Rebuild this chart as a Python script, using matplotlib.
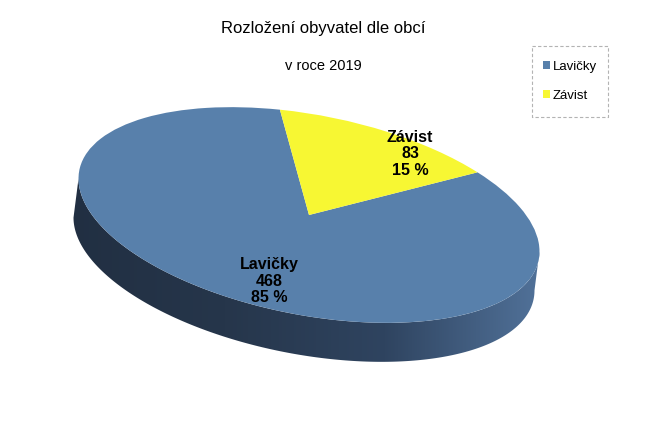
import numpy as np
import matplotlib
matplotlib.use('Agg')
import matplotlib.pyplot as plt
from matplotlib.transforms import Affine2D
from matplotlib.patches import Polygon, Rectangle
from matplotlib.colors import LinearSegmentedColormap

# Data
obce = ['Lavičky', 'Závist']
obyvatel = [468, 83]
barvy = ['#5880ab', '#f7f733']

title = 'Rozložení obyvatel dle obcí'
subtitle = 'v roce 2019'


def main():
    plt.rcParams['font.family'] = ['Liberation Sans', 'DejaVu Sans']

    fig = plt.figure(figsize=(6.47, 4.38), dpi=100)
    ax = fig.add_axes([0, 0, 1, 1])

    # geometrie elipsy (pixely, y dolu)
    cx, cy = 309, 215
    a, b = 234, 100
    rot = 11
    depth_dx, depth_dy = -5, 39

    el = Affine2D().scale(a, -b).rotate_deg(rot).translate(cx, cy)

    def bod(t_deg, dx=0, dy=0):
        t = np.radians(t_deg)
        p = el.transform(np.column_stack([np.cos(t), np.sin(t)]))
        return p + np.array([dx, dy])

    # bocni stena (viditelna predni cast)
    t0 = 180 + np.degrees(np.arctan(b * np.sin(np.radians(rot)) / (a * np.cos(np.radians(rot)))))
    ts = np.linspace(t0, t0 + 180, 200)
    horni = bod(ts)
    dolni = bod(ts[::-1], depth_dx, depth_dy)
    side = Polygon(np.vstack([horni, dolni]), closed=True, facecolor='none', edgecolor='none')
    ax.add_patch(side)

    cmap = LinearSegmentedColormap.from_list('side', ['#212f42', '#26364b', '#2f4460', '#52739b'])
    grad = np.linspace(0, 1, 256).reshape(1, -1)
    im = ax.imshow(grad, cmap=cmap, extent=[65, 545, 390, 170], aspect='auto', zorder=1)
    im.set_clip_path(side)

    # horni plocha
    wedges, _ = ax.pie(obyvatel, colors=barvy, startangle=102, counterclock=True)
    for w in wedges:
        w.set_transform(el + ax.transData)
        w.set_zorder(2)
        w.set_edgecolor('none')

    ax.set_aspect('auto')
    ax.set_xlim(0, 647)
    ax.set_ylim(438, 0)
    ax.axis('off')

    # popisky
    celkem = sum(obyvatel)
    pozice = [(269, 281), (410, 154)]
    for jm, v, (x, y) in zip(obce, obyvatel, pozice):
        ax.text(x, y, f'{jm}\n{v}\n{round(100 * v / celkem)} %', ha='center', va='center',
                fontsize=11.5, fontweight='bold', linespacing=1.12, zorder=3)

    ax.text(323, 28, title, ha='center', va='center', fontsize=12)
    ax.text(323, 66, subtitle, ha='center', va='center', fontsize=10.5)

    # legenda
    leg = ax.legend(wedges, obce, loc='upper left', bbox_to_anchor=(532 / 647, 1 - 50 / 438),
                    bbox_transform=fig.transFigure, fontsize=9.5, handlelength=0.6, handleheight=0.6,
                    handletextpad=0.2, labelspacing=1.3, borderpad=0.8, borderaxespad=0,
                    frameon=False)
    ax.add_patch(Rectangle((532, 46), 76, 71, fill=False, edgecolor='#b3b3b3',
                           linewidth=0.8, linestyle=(0, (3, 2)), zorder=4))

    fig.savefig('out.png', dpi=100)


if __name__ == "__main__":
    main()
